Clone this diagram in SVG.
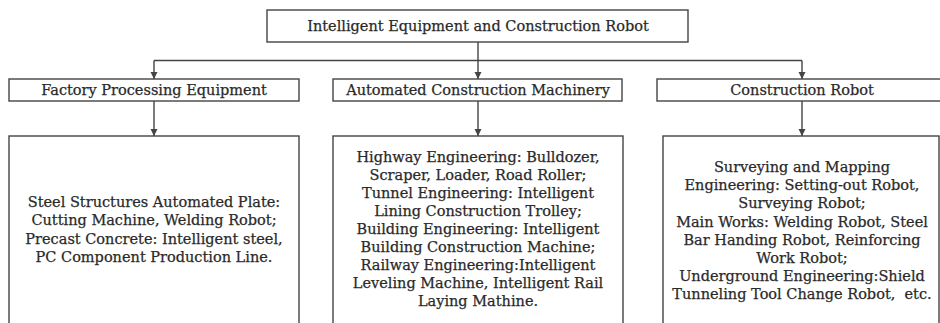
<svg xmlns="http://www.w3.org/2000/svg" width="940" height="323" viewBox="0 0 940 323">
<style>
.box{fill:#fff;stroke:#444;stroke-width:1.4}
.t{font-family:"DejaVu Serif","Liberation Serif",serif;font-size:14.5px;fill:#2a2a2a;stroke:#2a2a2a;stroke-width:0.25;text-anchor:middle}
.c{fill:none;stroke:#444;stroke-width:1.4}
</style>
<defs>
<marker id="ar" viewBox="0 0 10 10" refX="10" refY="5" markerWidth="7" markerHeight="9" markerUnits="userSpaceOnUse" orient="auto">
<path d="M0,0 L10,5 L0,10 Z" fill="#444" stroke="none"/>
</marker>
</defs>
<rect width="940" height="323" fill="#fff"/>
<g id="connectors">
<path class="c" d="M478,42 V79" marker-end="url(#ar)"/>
<path class="c" d="M154,60.5 H802"/>
<path class="c" d="M154,60.5 V79" marker-end="url(#ar)"/>
<path class="c" d="M802,60.5 V79" marker-end="url(#ar)"/>
<path class="c" d="M154,101 V136" marker-end="url(#ar)"/>
<path class="c" d="M478,101 V136" marker-end="url(#ar)"/>
<path class="c" d="M802,101 V136" marker-end="url(#ar)"/>
</g>
<g id="root">
<rect class="box" x="267" y="10" width="421" height="32"/>
<text class="t" x="478" y="31">Intelligent Equipment and Construction Robot</text>
</g>
<g id="factory">
<rect class="box" x="9" y="79" width="290" height="22"/>
<text class="t" x="154" y="95">Factory Processing Equipment</text>
</g>
<g id="machinery">
<rect class="box" x="333" y="79" width="289" height="22"/>
<text class="t" x="478" y="95">Automated Construction Machinery</text>
</g>
<g id="robot">
<rect class="box" x="657" y="79" width="290" height="22"/>
<text class="t" x="802" y="95">Construction Robot</text>
</g>
<g id="factory-detail">
<rect class="box" x="9" y="136" width="290" height="195"/>
<text class="t" x="154" y="207">Steel Structures Automated Plate:</text>
<text class="t" x="154" y="225">Cutting Machine, Welding Robot;</text>
<text class="t" x="154" y="244">Precast Concrete: Intelligent steel,</text>
<text class="t" x="154" y="262">PC Component Production Line.</text>
</g>
<g id="machinery-detail">
<rect class="box" x="333" y="136" width="290" height="195"/>
<text class="t" x="478" y="162">Highway Engineering: Bulldozer,</text>
<text class="t" x="478" y="180">Scraper, Loader, Road Roller;</text>
<text class="t" x="478" y="198">Tunnel Engineering: Intelligent</text>
<text class="t" x="478" y="216">Lining Construction Trolley;</text>
<text class="t" x="478" y="234">Building Engineering: Intelligent</text>
<text class="t" x="478" y="252">Building Construction Machine;</text>
<text class="t" x="478" y="270">Railway Engineering:Intelligent</text>
<text class="t" x="478" y="288">Leveling Machine, Intelligent Rail</text>
<text class="t" x="478" y="306">Laying Mathine.</text>
</g>
<g id="robot-detail">
<rect class="box" x="663" y="136" width="276" height="195"/>
<text class="t" x="802" y="172">Surveying and Mapping</text>
<text class="t" x="802" y="190">Engineering: Setting-out Robot,</text>
<text class="t" x="802" y="208">Surveying Robot;</text>
<text class="t" x="802" y="227">Main Works: Welding Robot, Steel</text>
<text class="t" x="802" y="245">Bar Handing Robot, Reinforcing</text>
<text class="t" x="802" y="263">Work Robot;</text>
<text class="t" x="802" y="281">Underground Engineering:Shield</text>
<text class="t" x="802" y="299" xml:space="preserve">Tunneling Tool Change Robot,  etc.</text>
</g>
</svg>
